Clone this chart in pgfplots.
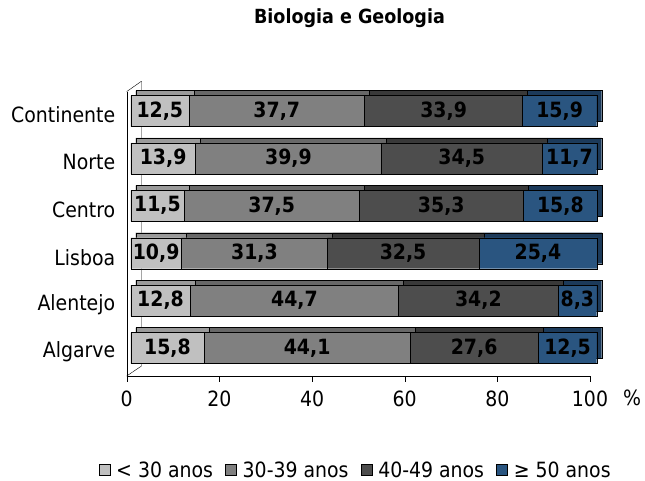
\documentclass[border=0pt]{standalone}
\usepackage{fontspec}
\setmainfont{DejaVu Sans Condensed}
\usepackage{pgfplots}
\usepackage{pgfplotstable}
\pgfplotsset{compat=1.18}
\definecolor{cA}{HTML}{C0C0C0}
\definecolor{cB}{HTML}{808080}
\definecolor{cC}{HTML}{4D4D4D}
\definecolor{cD}{HTML}{2A5580}
\definecolor{tA}{HTML}{9A9A9A}
\definecolor{tB}{HTML}{686868}
\definecolor{tC}{HTML}{393939}
\definecolor{tD}{HTML}{1C3A5A}

% i: 5 = Continente (top) ... 0 = Algarve (bottom)
\pgfplotstableread{
i a b c d
5 12.5 37.7 33.9 15.9
4 13.9 39.9 34.5 11.7
3 11.5 37.5 35.3 15.8
2 10.9 31.3 32.5 25.4
1 12.8 44.7 34.2 8.3
0 15.8 44.1 27.6 12.5
}\data

\newcommand\bigf{\fontsize{21pt}{25pt}\selectfont}

\pgfplotsset{
  barsax/.style={
    scale only axis, width=466pt, height=284.4pt,
    xmin=0, xmax=100, ymin=-0.506, ymax=5.494,
    hide axis, clip=false, anchor=south west,
  }
}

\begin{document}
\begin{tikzpicture}
\useasboundingbox (0,0) rectangle (645pt,481pt);
\node[font=\bfseries\fontsize{19.5pt}{23pt}\selectfont] at (349.5pt,463pt) {Biologia e Geologia};

% main axis: ticks, labels, walls, legend
\begin{axis}[
  scale only axis, width=463.3pt, height=284.4pt,
  at={(126.7pt,105pt)}, anchor=south west,
  xmin=0, xmax=100, ymin=-0.506, ymax=5.494,
  axis x line*=bottom, axis y line*=left,
  axis line style={-, black},
  clip=false,
  tick align=outside, major tick length=6pt,
  xtick={0,20,40,60,80,100},
  ytick={0,1,2,3,4,5},
  yticklabels={Algarve,Alentejo,Lisboa,Centro,Norte,Continente},
  y tick style={draw=none},
  y tick label style={xshift=-2pt},
  x tick style={black},
  tick label style={font=\bigf},
  x tick label style={yshift=-5pt},
  /pgf/number format/assume math mode=true,
  legend columns=4,
  legend image code/.code={\draw[#1,draw=black] (0pt,-5.6pt) rectangle (11.3pt,5.6pt);},
  legend style={draw=none, fill=none, font=\bigf,
    at={(rel axis cs:0.494,-0.3305)}, anchor=center,
    nodes={inner sep=2pt},
    /tikz/every odd column/.append style={column sep=4pt},
    /tikz/every even column/.append style={column sep=10pt}},
]
\addlegendimage{fill=cA}
\addlegendentry{< 30 anos}
\addlegendimage{fill=cB}
\addlegendentry{30-39 anos}
\addlegendimage{fill=cC}
\addlegendentry{40-49 anos}
\addlegendimage{fill=cD}
\addlegendentry{≥ 50 anos}
\draw (rel axis cs:0,1) -- ++(14.8pt,10.4pt);
\draw (rel axis cs:0,0) -- ++(14.8pt,10pt) -- ++(0pt,284.8pt);
\node[font=\bigf] at (rel axis cs:1,0) [xshift=42pt,yshift=-22pt] {\%};
\end{axis}

% depth (top and side faces)
\begin{axis}[barsax, xbar stacked, bar width=31pt, at={(135.7pt,114pt)}]
\addplot[fill=tA, draw=black] table[x=a,y=i]{\data};
\addplot[fill=tB, draw=black] table[x=b,y=i]{\data};
\addplot[fill=tC, draw=black] table[x=c,y=i]{\data};
\addplot[fill=tD, draw=black] table[x=d,y=i]{\data};
\end{axis}

% front faces
\begin{axis}[barsax, xbar stacked, bar width=31pt, at={(130.7pt,109pt)}]
\addplot[fill=cA, draw=black] table[x=a,y=i]{\data};
\addplot[fill=cB, draw=black] table[x=b,y=i]{\data};
\addplot[fill=cC, draw=black] table[x=c,y=i]{\data};
\addplot[fill=cD, draw=black] table[x=d,y=i]{\data};
\end{axis}

% value labels, centred in each segment
\begin{axis}[barsax, at={(130.7pt,109pt)},
  point meta=explicit,
  /pgf/number format/assume math mode=true,
  nodes near coords={\pgfmathprintnumber[fixed,fixed zerofill,precision=1,use comma,assume math mode=true]{\pgfplotspointmeta}},
  every node near coord/.append style={anchor=center, inner sep=0pt, text=black,
    font=\bfseries\bigf},
  lbl/.style={only marks, mark=*, mark size=0pt, mark options={draw=none, fill=none}},
]
\addplot[lbl] table[x expr=\thisrow{a}/2, y=i, meta=a]{\data};
\addplot[lbl] table[x expr=\thisrow{a}+\thisrow{b}/2, y=i, meta=b]{\data};
\addplot[lbl] table[x expr=\thisrow{a}+\thisrow{b}+\thisrow{c}/2, y=i, meta=c]{\data};
\addplot[lbl] table[x expr=\thisrow{a}+\thisrow{b}+\thisrow{c}+\thisrow{d}/2, y=i, meta=d]{\data};
\end{axis}
\end{tikzpicture}
\end{document}
